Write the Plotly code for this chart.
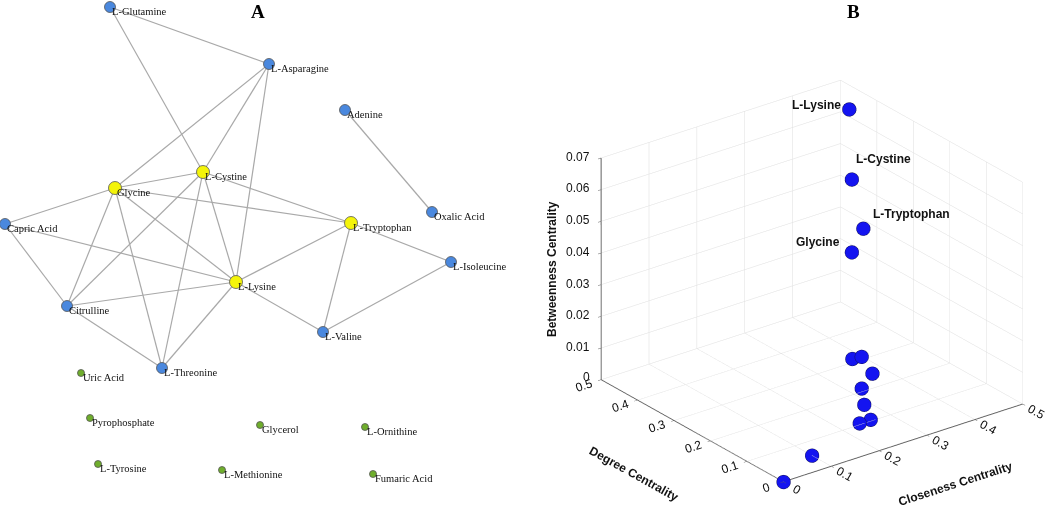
import plotly.graph_objects as go

# ---------------- Panel A: network ----------------
node_names = ["L-Glutamine", "L-Asparagine", "Adenine", "L-Cystine", "Glycine",
              "Capric Acid", "L-Tryptophan", "Oxalic Acid", "L-Isoleucine", "L-Lysine",
              "Citrulline", "L-Valine", "L-Threonine", "Uric Acid", "Pyrophosphate",
              "Glycerol", "L-Ornithine", "L-Tyrosine", "L-Methionine", "Fumaric Acid"]
node_x = [110, 269, 345, 203, 115, 5, 351, 432, 451, 236, 67, 323, 162, 81, 90, 260, 365, 98, 222, 373]
node_y = [7, 64, 110, 172, 188, 224, 223, 212, 262, 282, 306, 332, 368, 373, 418, 425, 427, 464, 470, 474]
node_group = ["mid", "mid", "mid", "hub", "hub", "mid", "hub", "mid", "mid", "hub",
              "mid", "mid", "mid", "iso", "iso", "iso", "iso", "iso", "iso", "iso"]

edges = [("L-Glutamine", "L-Asparagine"), ("L-Glutamine", "L-Cystine"),
         ("L-Asparagine", "Glycine"), ("L-Asparagine", "L-Cystine"), ("L-Asparagine", "L-Lysine"),
         ("Glycine", "L-Cystine"), ("Glycine", "L-Tryptophan"), ("Glycine", "Capric Acid"),
         ("Glycine", "L-Lysine"), ("Glycine", "Citrulline"), ("Glycine", "L-Threonine"),
         ("L-Cystine", "L-Tryptophan"), ("L-Cystine", "Citrulline"), ("L-Cystine", "L-Threonine"),
         ("L-Cystine", "L-Lysine"), ("Capric Acid", "L-Lysine"), ("Capric Acid", "Citrulline"),
         ("Citrulline", "L-Lysine"), ("Citrulline", "L-Threonine"), ("L-Threonine", "L-Lysine"),
         ("L-Tryptophan", "L-Lysine"), ("L-Tryptophan", "L-Valine"), ("L-Tryptophan", "L-Isoleucine"),
         ("L-Lysine", "L-Valine"), ("L-Valine", "L-Isoleucine"), ("Adenine", "Oxalic Acid")]

# ---------------- Panel B: centrality ----------------
cent_names = ["L-Lysine", "L-Cystine", "L-Tryptophan", "Glycine", "Citrulline", "L-Asparagine",
              "L-Valine", "L-Threonine", "Capric Acid", "L-Glutamine", "L-Isoleucine",
              "Adenine", "Oxalic Acid", "Uric Acid", "Pyrophosphate", "Glycerol",
              "L-Ornithine", "L-Tyrosine", "L-Methionine", "Fumaric Acid"]
degree = [0.421, 0.368, 0.263, 0.368, 0.263, 0.211, 0.158, 0.211, 0.158, 0.105, 0.105,
          0.053, 0.053, 0, 0, 0, 0, 0, 0, 0]
closeness = [0.458, 0.423, 0.367, 0.423, 0.344, 0.324, 0.306, 0.324, 0.289, 0.262, 0.239,
             0.100, 0.100, 0, 0, 0, 0, 0, 0, 0]
betweenness = [0.068, 0.051, 0.045, 0.028, 0.005, 0.010, 0.009, 0.0, 0.0, 0.0, 0.0,
               0, 0, 0, 0, 0, 0, 0, 0, 0]
labelled = ["L-Lysine", "L-Cystine", "L-Tryptophan", "Glycine"]

z_ticks = [0, 0.01, 0.02, 0.03, 0.04, 0.05, 0.06, 0.07]
z_ticktext = ["0", "0.01", "0.02", "0.03", "0.04", "0.05", "0.06", "0.07"]

fig = go.Figure()

idx = {n: i for i, n in enumerate(node_names)}
ex, ey = [], []
for a, b in edges:
    ex += [node_x[idx[a]], node_x[idx[b]], None]
    ey += [node_y[idx[a]], node_y[idx[b]], None]
fig.add_trace(go.Scatter(x=ex, y=ey, mode="lines", line=dict(color="#a9a9a9", width=1.2),
                         hoverinfo="skip", showlegend=False, cliponaxis=False))

styles = {"mid": ("#4a88de", 11), "hub": ("#f4f40a", 13), "iso": ("#6fae2c", 7)}
for g in ["mid", "hub", "iso"]:
    sel = [i for i, gg in enumerate(node_group) if gg == g]
    fig.add_trace(go.Scatter(
        x=[node_x[i] for i in sel], y=[node_y[i] for i in sel], mode="markers",
        marker=dict(color=styles[g][0], size=styles[g][1], line=dict(color="#555555", width=0.8)),
        text=[node_names[i] for i in sel], hoverinfo="text", showlegend=False, cliponaxis=False))

annotations = []
for i, n in enumerate(node_names):
    annotations.append(dict(x=node_x[i], y=node_y[i], xref="x", yref="y", text=n,
                            showarrow=False, xanchor="left", yanchor="middle",
                            xshift=0, yshift=-4,
                            font=dict(family="Liberation Serif", size=10.5, color="#111111")))
annotations.append(dict(x=258 / 1050, y=1 - 12 / 506, xref="paper", yref="paper", text="<b>A</b>",
                        showarrow=False, xanchor="center", yanchor="middle",
                        font=dict(family="Liberation Serif", size=19, color="black")))
annotations.append(dict(x=853 / 1050, y=1 - 12 / 506, xref="paper", yref="paper", text="<b>B</b>",
                        showarrow=False, xanchor="center", yanchor="middle",
                        font=dict(family="Liberation Serif", size=19, color="black")))
# 3D axis titles placed as in the reference
title_font = dict(family="Liberation Sans", size=12, color="#111111")
annotations.append(dict(x=552 / 1050, y=1 - 269 / 506, xref="paper", yref="paper",
                        text="<b>Betweenness Centrality</b>", textangle=-90, showarrow=False,
                        xanchor="center", yanchor="middle", font=title_font))
annotations.append(dict(x=634 / 1050, y=1 - 474 / 506, xref="paper", yref="paper",
                        text="<b>Degree Centrality</b>", textangle=29, showarrow=False,
                        xanchor="center", yanchor="middle", font=title_font))
annotations.append(dict(x=955 / 1050, y=1 - 484 / 506, xref="paper", yref="paper",
                        text="<b>Closeness Centrality</b>", textangle=-18, showarrow=False,
                        xanchor="center", yanchor="middle", font=title_font))

fig.add_trace(go.Scatter3d(
    x=closeness, y=degree, z=betweenness, mode="markers",
    marker=dict(size=8, color="#1414f0", line=dict(color="#101060", width=1)),
    text=cent_names, hoverinfo="text", showlegend=False, scene="scene"))

label_pos = {"L-Lysine": ("right", -6, 4), "L-Cystine": ("left", 2, 20),
             "L-Tryptophan": ("left", 8, 14), "Glycine": ("right", -10, 10)}
scene_ann = []
for n in labelled:
    i = cent_names.index(n)
    anc, xs, ys = label_pos[n]
    scene_ann.append(dict(x=closeness[i], y=degree[i], z=betweenness[i], text="<b>%s</b>" % n,
                          showarrow=False, xanchor=anc, yanchor="middle", xshift=xs, yshift=ys,
                          font=dict(family="Liberation Sans", size=12, color="#111111")))
# z tick labels on the left vertical edge (closeness = 0, degree = 0.5)
for zv, zt in zip(z_ticks, z_ticktext):
    scene_ann.append(dict(x=0, y=0.5, z=zv, text=zt, showarrow=False,
                          xanchor="right", yanchor="middle", xshift=-9, yshift=(3 if zv == 0 else 1),
                          font=dict(family="Liberation Sans", size=12, color="#111111")))

ax_common = dict(showbackground=False, gridcolor="#dedede", gridwidth=1, showline=True,
                 linecolor="#606060", linewidth=2, zeroline=False, ticks="outside",
                 ticklen=4, tickcolor="#606060", showspikes=False,
                 tickfont=dict(family="Liberation Sans", size=12, color="#111111"))

box_scale = 1.337
view_dir = (-0.548, -0.7195, 0.4267)
cam_center = (-0.0864, 0.0658, 0.0)
fig.update_layout(
    width=1050, height=506, margin=dict(l=0, r=0, t=0, b=0),
    paper_bgcolor="white", plot_bgcolor="white",
    xaxis=dict(domain=[0, 0.5], range=[0, 525], visible=False, fixedrange=True),
    yaxis=dict(domain=[0, 1], range=[506, 0], visible=False, fixedrange=True),
    annotations=annotations,
    scene=dict(
        domain=dict(x=[0.5, 1.0], y=[0.0, 0.89]),
        xaxis=dict(range=[0, 0.5], dtick=0.1, title=dict(text=""), **ax_common),
        yaxis=dict(range=[0, 0.5], dtick=0.1, title=dict(text=""), **ax_common),
        zaxis=dict(range=[0, 0.07], tickvals=z_ticks, showticklabels=False,
                   title=dict(text=""), **ax_common),
        aspectmode="manual",
        aspectratio=dict(x=box_scale, y=box_scale, z=0.815 * box_scale),
        camera=dict(eye=dict(x=cam_center[0] + view_dir[0] * 2.0,
                             y=cam_center[1] + view_dir[1] * 2.0,
                             z=cam_center[2] + view_dir[2] * 2.0),
                    center=dict(x=cam_center[0], y=cam_center[1], z=cam_center[2]),
                    up=dict(x=0, y=0, z=1),
                    projection=dict(type="orthographic")),
        annotations=scene_ann,
    ),
)

fig.write_html("out.html", config={"displayModeBar": False},
               post_script="document.body.style.margin='0px';")
